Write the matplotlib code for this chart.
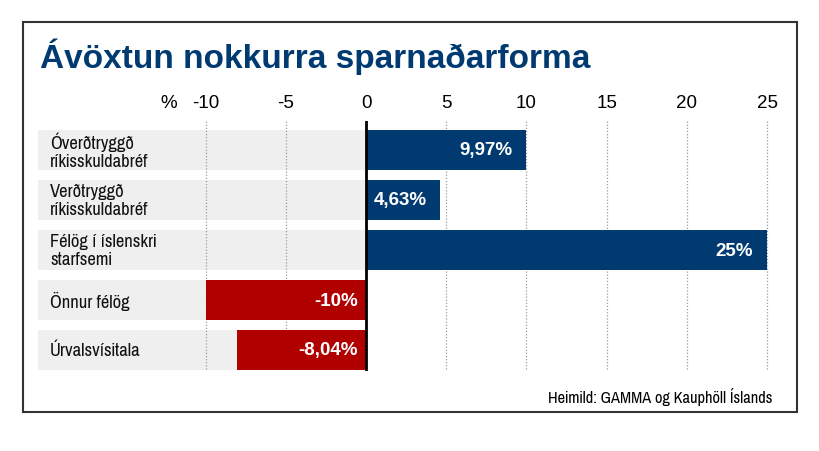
import matplotlib
matplotlib.use('Agg')
import matplotlib.pyplot as plt
from matplotlib.patches import Rectangle
from matplotlib import font_manager
from matplotlib.font_manager import FontProperties

# data
categories = ["Óverðtryggð\nríkisskuldabréf", "Verðtryggð\nríkisskuldabréf",
              "Félög í íslenskri\nstarfsemi", "Önnur félög", "Úrvalsvísitala"]
values = [9.97, 4.63, 25, -10, -8.04]
value_labels = ["9,97%", "4,63%", "25%", "-10%", "-8,04%"]
ticks = [-10, -5, 0, 5, 10, 15, 20, 25]

blue = "#003a70"
red = "#b00000"

# look for the narrow Liberation files directly
narrow_reg = None
narrow_bold = None
for f in font_manager.fontManager.ttflist:
    fn = f.fname.lower()
    if 'narrow' in fn and 'italic' not in fn:
        if 'bold' in fn:
            narrow_bold = f.fname
        else:
            narrow_reg = f.fname

def narrow(size, bold=False):
    path = narrow_bold if bold else narrow_reg
    if path:
        return dict(fontproperties=FontProperties(fname=path, size=size))
    return dict(fontsize=size * 0.85, family='Liberation Sans',
                fontweight='bold' if bold else 'normal')

def plain(size, bold=False):
    return dict(fontsize=size, family='Liberation Sans', stretch='normal',
                fontweight='bold' if bold else 'normal')

W, H = 820, 452
fig = plt.figure(figsize=(W / 100, H / 100), dpi=100)

# outer frame
fig.patches.append(Rectangle((23 / W, 1 - 413 / H), (797 - 23) / W, (413 - 23) / H,
                             transform=fig.transFigure, fill=False,
                             edgecolor="#333333", linewidth=1.5))

fig.text(40 / W, 1 - 57 / H, "Ávöxtun nokkurra sparnaðarforma", color=blue,
         va='center', ha='left', **plain(24, True))

# axes placed in pixels: left 38, right 775, top 122, bottom 372
ax = fig.add_axes([38 / W, 1 - 372 / H, (775 - 38) / W, (372 - 122) / H])
px = 16.04
xmin = (38 - 366) / px
xmax = (775 - 366) / px
ax.set_xlim(xmin, xmax)
ax.set_ylim(4.42, -0.58)
ax.axis('off')

ypos = list(range(len(categories)))
# gray row backgrounds
ax.barh(ypos, [0 - xmin] * len(ypos), left=xmin, height=0.8, color="#efefef", zorder=0)
for t in ticks:
    if t != 0:
        ax.plot([t, t], [-0.58, 4.44], color="#9a9a9a", linestyle=(0, (1, 1.5)),
                linewidth=0.9, zorder=1)
colors = [blue if v > 0 else red for v in values]
ax.barh(ypos, values, height=0.8, color=colors, zorder=2)
ax.plot([0, 0], [-0.58, 4.42], color="black", linewidth=2, zorder=3)

for y, v, lab in zip(ypos, values, value_labels):
    xt = v - 0.85 if v > 0 else -0.5
    ax.text(xt, y, lab, color="white", ha='right', va='center', zorder=4,
            **plain(13.5, True))

for y, c in zip(ypos, categories):
    ax.text(xmin + 12 / px, y, c, ha='left', va='center', linespacing=1.15,
            color="#111111", zorder=4, **narrow(14.5))

for t in ticks:
    ax.text(t, -0.58 - 19 / 50, str(t), ha='center', va='center', **plain(13.5))
ax.text(-12.3, -0.58 - 19 / 50, "%", ha='center', va='center', **plain(13.5))

fig.text(772 / W, 1 - 397 / H, "Heimild: GAMMA og Kauphöll Íslands", ha='right',
         va='center', **narrow(12.8))

fig.savefig("out.png", dpi=100)
